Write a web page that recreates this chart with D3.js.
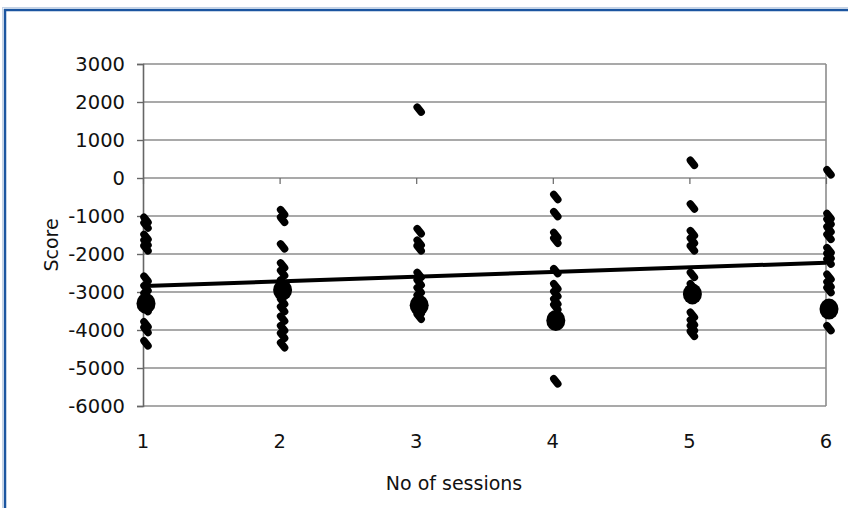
<!DOCTYPE html>
<html>
<head>
<meta charset="utf-8">
<script src="https://cdn.jsdelivr.net/npm/d3@7"></script>
<style>
  body { margin: 0; background: #fff; }
  svg text { font-family: "DejaVu Sans", Verdana, sans-serif; fill: #111; }
</style>
</head>
<body>
<div id="container"></div>
<script>
//Chart data
const sessions = [1, 2, 3, 4, 5, 6];
const session1Scores = [-1100, -1250, -1550, -1700, -1850, -2650, -2900, -3100, -3450, -3850, -4000, -4350];
const session2Scores = [-900, -1100, -1800, -2300, -2500, -2750, -3250, -3450, -3700, -3950, -4150, -4400];
const session3Scores = [1800, -1400, -1700, -1850, -2550, -2750, -2950, -3150, -3500, -3650];
const session4Scores = [-500, -950, -1500, -1650, -2450, -2850, -3050, -3250, -3400, -5350];
const session5Scores = [400, -750, -1450, -1650, -1850, -2550, -2850, -3600, -3800, -3950, -4100];
const session6Scores = [150, -1000, -1150, -1350, -1550, -1900, -2050, -2200, -2600, -2800, -2950, -3950];
const denseScores = [-3300, -2950, -3350, -3750, -3050, -3450];
const trendScores = [-2840, -2230];
const yTicks = [3000, 2000, 1000, 0, -1000, -2000, -3000, -4000, -5000, -6000];

const allScores = [session1Scores, session2Scores, session3Scores, session4Scores, session5Scores, session6Scores];

//Create dimensions
const width = 848;
const height = 508;
const plot = { left: 143, right: 826, top: 64, bottom: 406 };

const svg = d3.select("#container")
    .append("svg")
    .attr("width", width)
    .attr("height", height);

//Outer frame
svg.append("rect")
    .attr("x", 2.5).attr("y", 7.5)
    .attr("width", 900).attr("height", 600)
    .attr("fill", "none")
    .attr("stroke", "#c5d3e6")
    .attr("stroke-width", 1);
svg.append("rect")
    .attr("x", 5).attr("y", 10)
    .attr("width", 900).attr("height", 600)
    .attr("fill", "#fff")
    .attr("stroke", "#1b55a0")
    .attr("stroke-width", 2.5);

//Scales
const x = d3.scaleLinear().domain([1, 6]).range([plot.left, plot.right]);
const y = d3.scaleLinear().domain([-6000, 3000]).range([plot.bottom, plot.top]);

//Gridlines
svg.append("g")
    .selectAll("line")
    .data(yTicks)
    .join("line")
    .attr("x1", plot.left).attr("x2", plot.right)
    .attr("y1", d => y(d)).attr("y2", d => y(d))
    .attr("stroke", "#8c8c8c")
    .attr("stroke-width", 1.6);

//Right border of plot area
svg.append("line")
    .attr("x1", plot.right).attr("x2", plot.right)
    .attr("y1", plot.top).attr("y2", plot.bottom)
    .attr("stroke", "#8c8c8c")
    .attr("stroke-width", 1.6);

//Y axis
const yAxis = svg.append("g")
    .attr("transform", `translate(${plot.left},0)`)
    .call(d3.axisLeft(y).tickValues(yTicks).tickSize(6).tickPadding(12).tickFormat(d => String(d)));
yAxis.select(".domain").attr("stroke", "#666").attr("stroke-width", 1.6);
yAxis.selectAll(".tick line").attr("stroke", "#666").attr("stroke-width", 1.4);
yAxis.selectAll("text").attr("font-size", 19.5).attr("fill", "#111")
    .style("font-family", "DejaVu Sans, Verdana, sans-serif");

//X axis crosses at zero, labels sit at the bottom
const xAxis = svg.append("g")
    .attr("transform", `translate(0,${y(0)})`)
    .call(d3.axisBottom(x).tickValues(sessions).tickSize(6).tickFormat(""));
xAxis.select(".domain").remove();
xAxis.selectAll(".tick line").attr("stroke", "#666").attr("stroke-width", 1.2);

svg.append("g")
    .selectAll("text")
    .data(sessions)
    .join("text")
    .attr("x", d => x(d))
    .attr("y", plot.bottom + 42)
    .attr("text-anchor", "middle")
    .attr("font-size", 19.5)
    .text(d => d);

//Axis titles
svg.append("text")
    .attr("x", 454)
    .attr("y", 490)
    .attr("text-anchor", "middle")
    .attr("font-size", 19)
    .text("No of sessions");

svg.append("text")
    .attr("transform", `translate(58,${(plot.top + plot.bottom) / 2 + 10}) rotate(-90)`)
    .attr("text-anchor", "middle")
    .attr("font-size", 19)
    .text("Score");

//Trend line
svg.append("line")
    .attr("x1", x(1) + 2).attr("x2", x(6))
    .attr("y1", y(trendScores[0])).attr("y2", y(trendScores[1]))
    .attr("stroke", "#000")
    .attr("stroke-width", 4);

//Points
const points = allScores.flatMap((arr, i) => arr.map(v => ({ session: sessions[i], score: v })));

svg.append("g")
    .selectAll("line")
    .data(points)
    .join("line")
    .attr("x1", d => x(d.session) + 1)
    .attr("y1", d => y(d.score) - 2.5)
    .attr("x2", d => x(d.session) + 5)
    .attr("y2", d => y(d.score) + 2.5)
    .attr("stroke", "#000")
    .attr("stroke-width", 7.5)
    .attr("stroke-linecap", "round");

//Dense clusters of overlapping points
svg.append("g")
    .selectAll("ellipse")
    .data(denseScores)
    .join("ellipse")
    .attr("cx", (d, i) => x(sessions[i]) + 3)
    .attr("cy", d => y(d))
    .attr("rx", 9.5)
    .attr("ry", 10.5)
    .attr("fill", "#000");
</script>
</body>
</html>
